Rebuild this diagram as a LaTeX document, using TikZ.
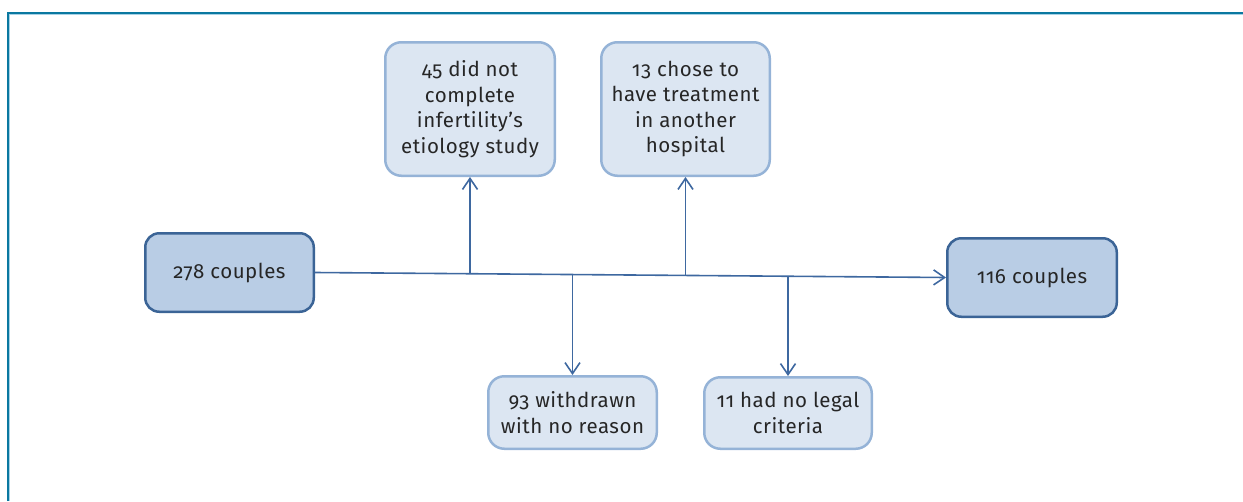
\documentclass[tikz,border=0pt]{standalone}
\usepackage{fontspec}
\setmainfont{Fira Sans}[Numbers=OldStyle, LetterSpace=2.5]
\usetikzlibrary{arrows.meta,calc}
\definecolor{frameblue}{HTML}{0A78A0}
\definecolor{framelight}{HTML}{A8D2E6}
\definecolor{darkfill}{HTML}{B9CDE5}
\definecolor{darkedge}{HTML}{3B6496}
\definecolor{lightfill}{HTML}{DCE6F2}
\definecolor{lightedge}{HTML}{95B3D7}
\definecolor{linecol}{HTML}{3E68A0}
\definecolor{txt}{HTML}{262626}
\begin{document}
\begin{tikzpicture}[x=1pt,y=-1pt,
  boxfont/.style={font=\fontsize{20.5}{25.5}\selectfont, text=txt, align=center, inner sep=0pt},
  mainbox/.style={boxfont, draw=darkedge, fill=darkfill, line width=2.5pt, rounded corners=14pt},
  sidebox/.style={boxfont, draw=lightedge, fill=lightfill, line width=2.5pt, rounded corners=16pt},
  conn/.style={draw=linecol, line width=1.6pt, -{Straight Barb[length=11pt,width=15pt]}}
]
\useasboundingbox (0,0) rectangle (1243,501);
% frame
\draw[frameblue, line width=2pt] (7.7,501) -- (7.7,12.7) -- (1243,12.7);
\draw[framelight, line width=1pt] (9.2,501) -- (9.2,14.2) -- (1243,14.2);
% boxes
\node[mainbox, minimum width=168.5pt, minimum height=78.5pt] (n278) at (229.5,272.5) {278 couples};
\node[mainbox, minimum width=169.5pt, minimum height=78.5pt] (n116) at (1032,277.5) {116 couples};
\node[sidebox, minimum width=169.5pt, minimum height=133.5pt] (n45) at (470,109) {45 did not\\complete\\infertility’s\\etiology study};
\node[sidebox, minimum width=168.5pt, minimum height=133.5pt] (n13) at (685.5,109) {13 chose to\\have treatment\\in another\\hospital};
\node[sidebox, minimum width=168.5pt, minimum height=72.5pt] (n93) at (572.5,412.5) {93 withdrawn\\with no reason};
\node[sidebox, minimum width=167.5pt, minimum height=71.5pt] (n11) at (788,413) {11 had no legal\\criteria};
% main flow
\draw[conn] (n278.east) -- (n116.west);
\coordinate (p45) at ($(n278.east)!(n45.south)!(n116.west)$);
\coordinate (p13) at ($(n278.east)!(n13.south)!(n116.west)$);
\coordinate (p93) at ($(n278.east)!(n93.north)!(n116.west)$);
\coordinate (p11) at ($(n278.east)!(n11.north)!(n116.west)$);
\draw[conn] (n45.south |- p45) -- (n45.south);
\draw[conn] (n13.south |- p13) -- (n13.south);
\draw[conn] (n93.north |- p93) -- (n93.north);
\draw[conn] (n11.north |- p11) -- (n11.north);
\end{tikzpicture}
\end{document}
